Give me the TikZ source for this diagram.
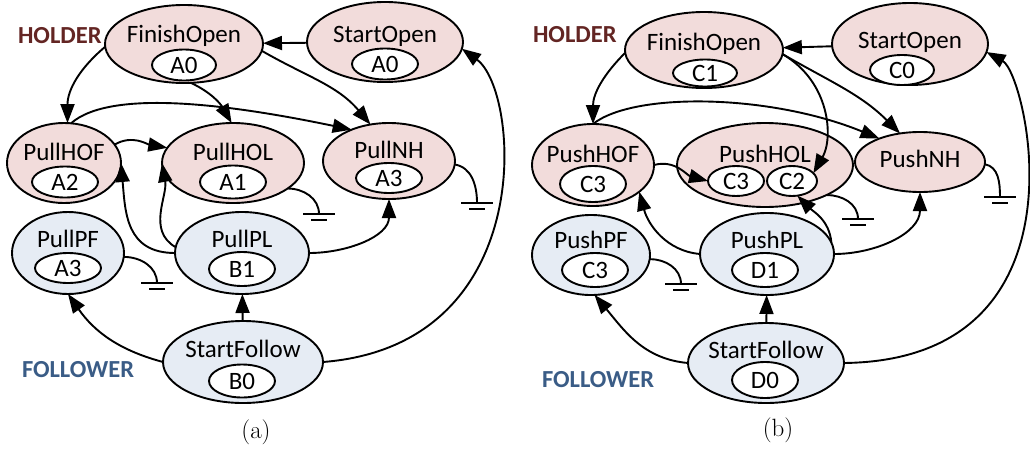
\documentclass[tikz,border=0pt]{standalone}
\usepackage{fontspec}
\newfontfamily\carlitofont{Carlito}
\usetikzlibrary{shapes.geometric, arrows.meta}
\definecolor{holdfill}{HTML}{F2DCDB}
\definecolor{follfill}{HTML}{E6ECF4}
\definecolor{holdtext}{HTML}{632523}
\definecolor{folltext}{HTML}{3A5C86}
\tikzset{
  gnd/.pic={
    \draw[line width=1.9pt] (-16,0) -- (16,0);
    \draw[line width=1.9pt] (-8,-6) -- (8,-6);
  }
}
\begin{document}
\begin{tikzpicture}[x=1pt,y=1pt,
  every node/.style={inner sep=0pt, outer sep=0pt},
  holder/.style={ellipse, draw, line width=1.9pt, fill=holdfill},
  follower/.style={ellipse, draw, line width=1.9pt, fill=follfill},
  tag/.style={ellipse, draw, line width=1.9pt, fill=white, font=\carlitofont\fontsize{25}{25}\selectfont},
  title/.style={anchor=base, font=\carlitofont\fontsize{25}{25}\selectfont},
  role/.style={anchor=base west, font=\carlitofont\bfseries\fontsize{24.5}{24.5}\selectfont},
  caption/.style={font=\fontsize{25}{25}\selectfont},
  arr/.style={line width=1.9pt, -{Triangle[length=19pt,width=14pt]}},
  wire/.style={line width=1.9pt},
]
\useasboundingbox (0,0) rectangle (1030,-450);

% ---------------- panel (a): pull ----------------
\node[role, text=holdtext] (holdA) at (18,-43) {HOLDER};
\node[role, text=folltext] (follA) at (22,-377) {FOLLOWER};

\node[holder, minimum width=158, minimum height=78] (foA) at (184,-44) {};
\node[title] (foA-t) at (184,-42) {FinishOpen};
\node[tag, minimum width=64, minimum height=31] (foA-v) at (184,-65) {A0};

\node[holder, minimum width=156, minimum height=80] (soA) at (385,-42) {};
\node[title] (soA-t) at (385,-42) {StartOpen};
\node[tag, minimum width=66, minimum height=31] (soA-v) at (385,-64) {A0};

\node[holder, minimum width=114, minimum height=80] (hofA) at (64,-163) {};
\node[title] (hofA-t) at (64,-160) {PullHOF};
\node[tag, minimum width=66, minimum height=31] (hofA-v) at (65,-182) {A2};

\node[holder, minimum width=142, minimum height=80] (holA) at (233,-163) {};
\node[title] (holA-t) at (233,-160) {PullHOL};
\node[tag, minimum width=66, minimum height=33] (holA-v) at (233,-182) {A1};

\node[holder, minimum width=132, minimum height=76] (nhA) at (389,-161) {};
\node[title] (nhA-t) at (389,-158) {PullNH};
\node[tag, minimum width=66, minimum height=30] (nhA-v) at (389,-178) {A3};

\node[follower, minimum width=112, minimum height=82] (pfA) at (68,-253) {};
\node[title] (pfA-t) at (68,-247) {PullPF};
\node[tag, minimum width=66, minimum height=30] (pfA-v) at (68,-268) {A3};

\node[follower, minimum width=134, minimum height=82] (plA) at (242,-253) {};
\node[title] (plA-t) at (242,-247) {PullPL};
\node[tag, minimum width=66, minimum height=34] (plA-v) at (242,-269) {B1};

\node[follower, minimum width=160, minimum height=82] (sfA) at (243,-362) {};
\node[title] (sfA-t) at (243,-357) {StartFollow};
\node[tag, minimum width=66, minimum height=33] (sfA-v) at (242,-381) {B0};

\node[caption] (capA) at (256,-432) {(a)};

% transitions of panel (a)
\draw[arr] (soA) -- (foA);
\draw[arr] (foA.182) to[out=220,in=90] (hofA.85);
\draw[arr] (foA.-80) to[out=-25,in=120] (holA.92);
\draw[arr] (foA.-5) to[out=-30,in=130] (nhA.117);
\draw[arr] (hofA.80) .. controls +(40,35) and +(-120,25) .. (nhA.140);
\draw[arr] (hofA.20) to[out=30,in=170] (holA.167);
\draw[arr] (plA.west) to[out=180,in=-85,looseness=1.2] (hofA.east);
\draw[arr] (plA.175) to[out=150,in=-80] (holA.west);
\draw[arr] (plA.east) to[out=0,in=-90] (nhA.south);
\draw[arr] (sfA.west) to[out=165,in=-55] (pfA.south);
\draw[arr] (sfA) -- (plA);
\draw[arr] (sfA.east) .. controls +(217,17) and +(58,-42) .. (soA.-5);

% terminal states of panel (a)
\coordinate (g1) at (319,-214);
\coordinate (g2) at (477,-203);
\coordinate (g3) at (157,-283);
\draw[wire] (holA.-25) to[out=0,in=90] (g1);
\draw[wire] (nhA.-3) to[out=-10,in=90] (g2);
\draw[wire] (pfA.-4) to[out=0,in=90] (g3);
\pic at (g1) {gnd};
\pic at (g2) {gnd};
\pic at (g3) {gnd};

% ---------------- panel (b): push ----------------
\node[role, text=holdtext] (holdB) at (533,-42) {HOLDER};
\node[role, text=folltext] (follB) at (542,-387) {FOLLOWER};

\node[holder, minimum width=158, minimum height=76] (foB) at (704,-50) {};
\node[title] (foB-t) at (704,-50) {FinishOpen};
\node[tag, minimum width=64, minimum height=27] (foB-v) at (705,-73) {C1};

\node[holder, minimum width=156, minimum height=82] (soB) at (910,-44) {};
\node[title] (soB-t) at (910,-48) {StartOpen};
\node[tag, minimum width=64, minimum height=30] (soB-v) at (902,-70) {C0};

\node[holder, minimum width=122, minimum height=82] (hofB) at (593,-165) {};
\node[title] (hofB-t) at (593,-162) {PushHOF};
\node[tag, minimum width=66, minimum height=36] (hofB-v) at (593,-184) {C3};

\node[holder, minimum width=176, minimum height=84] (holB) at (765,-165) {};
\node[title] (holB-t) at (765,-162) {PushHOL};
\node[tag, minimum width=56, minimum height=30] (c3B) at (736,-181) {C3};
\node[tag, minimum width=50, minimum height=30] (c2B) at (792,-181) {C2};

\node[holder, minimum width=130, minimum height=60] (nhB) at (920,-162) {};
\node[title] (nhB-t) at (920,-167) {PushNH};

\node[follower, minimum width=118, minimum height=80] (pfB) at (591,-255) {};
\node[title] (pfB-t) at (591,-248) {PushPF};
\node[tag, minimum width=66, minimum height=34] (pfB-v) at (595,-270) {C3};

\node[follower, minimum width=134, minimum height=82] (plB) at (767,-254) {};
\node[title] (plB-t) at (767,-248) {PushPL};
\node[tag, minimum width=66, minimum height=34] (plB-v) at (765,-270) {D1};

\node[follower, minimum width=156, minimum height=80] (sfB) at (766,-363) {};
\node[title] (sfB-t) at (766,-358) {StartFollow};
\node[tag, minimum width=66, minimum height=36] (sfB-v) at (765,-380) {D0};

\node[caption] (capB) at (778,-430) {(b)};

% transitions of panel (b)
\draw[arr] (soB) -- (foB);
\draw[arr] (foB.182) to[out=225,in=90] (hofB.north);
\draw[arr] (hofB.north) .. controls +(40,32) and +(-110,45) .. (nhB.150);
\draw[arr] (foB.-3) to[out=-30,in=135] (nhB.125);
\draw[arr] (foB.-3) .. controls +(48,-28) and +(20,35) .. (c2B.20);
\draw[arr] (hofB.east) to[out=15,in=165] (c3B.west);
\draw[arr] (plB.west) to[out=175,in=-75] (hofB.-30);
\draw[arr] (plB.10) to[out=95,in=-45] (c2B.-70);
\draw[arr] (plB.east) to[out=0,in=-90] (nhB.south);
\draw[arr] (sfB.west) to[out=175,in=-50] (pfB.-85);
\draw[arr] (sfB) -- (plB);
\draw[arr] (sfB.east) .. controls +(251,3) and +(40,-22) .. (soB.-6);

% terminal states of panel (b)
\coordinate (g4) at (858,-219);
\coordinate (g5) at (1000,-197);
\coordinate (g6) at (681,-284);
\draw[wire] (holB.-26) to[out=0,in=90] (g4);
\draw[wire] (nhB.-2) to[out=-10,in=90] (g5);
\draw[wire] (pfB.-4) to[out=0,in=90] (g6);
\pic at (g4) {gnd};
\pic at (g5) {gnd};
\pic at (g6) {gnd};
\end{tikzpicture}
\end{document}
